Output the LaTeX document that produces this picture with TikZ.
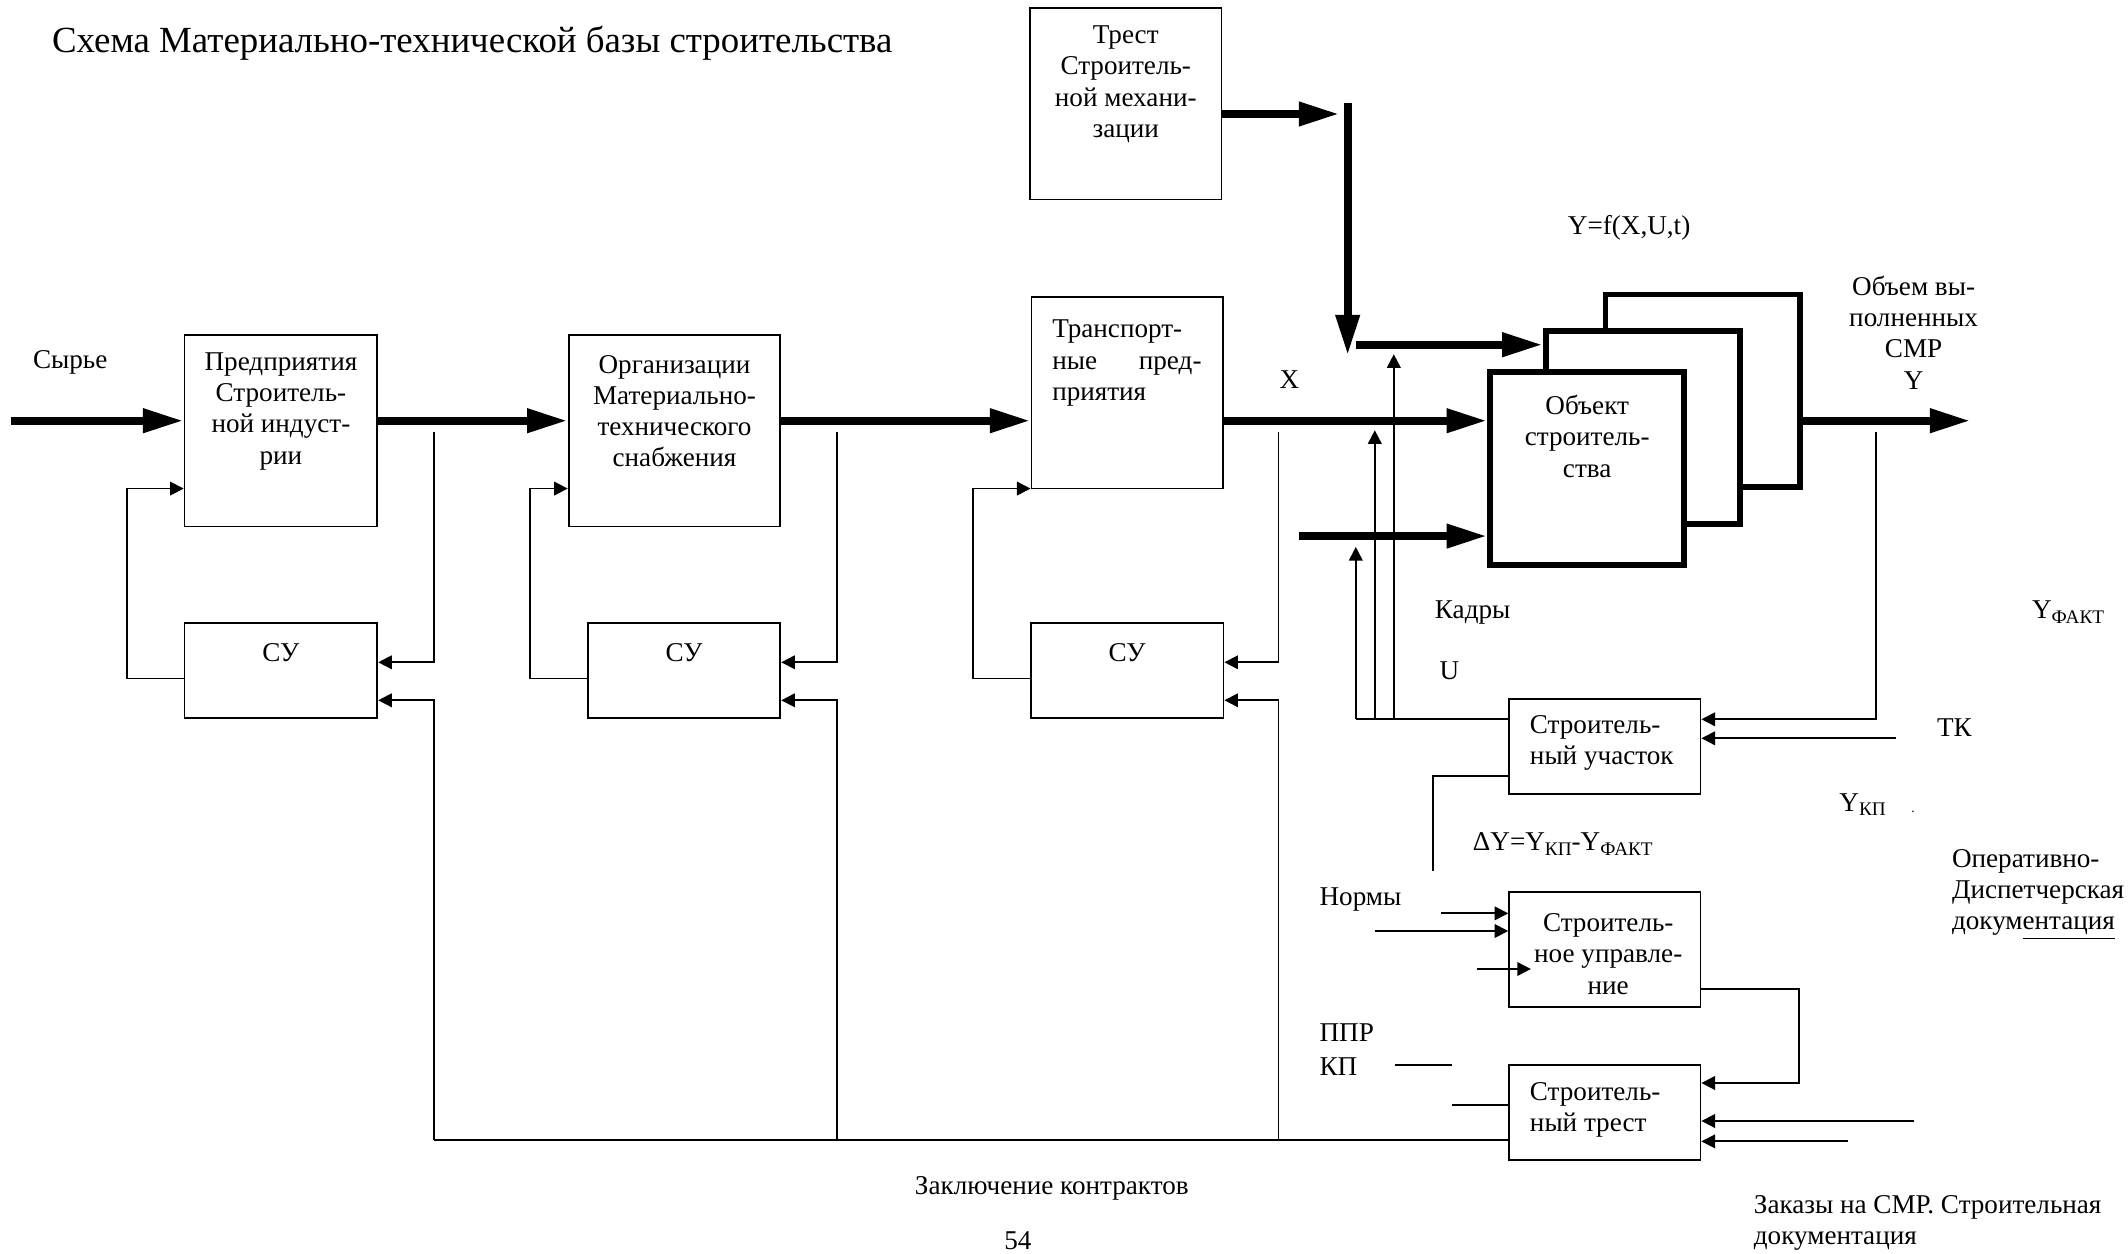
\documentclass[tikz,border=0pt]{standalone}
\usepackage{fontspec}
\setmainfont{Liberation Serif}
\usepackage{tikz}
\usetikzlibrary{arrows.meta, positioning, calc}
\tikzstyle{flow} = [line width=3.6pt, -{Triangle[length=18pt, width=10pt]}]
\tikzstyle{link} = [line width=0.8pt, -{Triangle[length=6pt, width=6pt]}]
\tikzstyle{wire} = [line width=0.8pt]
\newcommand{\lowtxt}[1]{\raisebox{-0.35ex}{\fontsize{8.5}{9}\selectfont #1}}

\begin{document}
\begin{tikzpicture}[x=0.6pt, y=-0.6pt,
    font=\fontsize{12}{13.8}\selectfont,
    box/.style={draw, line width=0.8pt, inner sep=0pt},
    big/.style={box, minimum width=85.2pt, minimum height=84.6pt},
    small/.style={box, minimum width=85.2pt, minimum height=42pt},
    obj/.style={draw, line width=2.6pt, fill=white, inner sep=0pt, minimum width=85.8pt, minimum height=85.2pt},
    txt/.style={inner sep=0pt, align=center},
    ltxt/.style={inner sep=0pt, align=left, anchor=west},
]
    \useasboundingbox (0,0) rectangle (1568,924);

    % Title
    \node[ltxt, font=\fontsize{16.3}{18}\selectfont] (title) at (38,32) {Схема Материально-технической базы строительства};

    % Supply chain
    \node[big] (pred) at (207,317.5) {};
    \node[txt] (pred-t) at (207,303) {Предприятия\\Строитель-\\ной индуст-\\рии};
    \node[big, minimum width=93.6pt] (org) at (497,317.5) {};
    \node[txt] (org-t) at (497,303) {Организации\\Материально-\\технического\\снабжения};
    \node[big, minimum width=84.6pt] (trans) at (830.5,289.5) {};
    \node[ltxt, text width=66pt] (trans-t) at (775,267.5) {Транспорт-\\ные\hfill пред-\\приятия};
    \node[big, minimum width=84.6pt] (mech) at (829.5,76.5) {};
    \node[txt] (mech-t) at (829.5,62) {Трест\\Строитель-\\ной механи-\\зации};

    % Control units
    \foreach \i/\x in {1/207, 2/504, 3/830.5} {
        \node[small] (su-\i) at (\x,494) {};
        \node[txt] (su-\i-t) at (\x,481) {СУ};
    }

    % Construction object
    \node[obj] (obj-3) at (1254.5,288) {};
    \node[obj] (obj-2) at (1210.5,315) {};
    \node[obj] (obj-1) at (1169.5,345) {};
    \node[txt] (obj-t) at (1169.5,321.5) {Объект\\строитель-\\ства};

    % Management
    \node[small, minimum width=84.6pt] (uch) at (1182.5,550) {};
    \node[ltxt] (uch-t) at (1127,547.5) {Строитель-\\ный участок};
    \node[box, minimum width=84.6pt, minimum height=51pt] (upr) at (1182.5,699.5) {};
    \node[txt] (upr-t) at (1185,703) {Строитель-\\ное управле-\\ние};
    \node[small, minimum width=84.6pt] (trest) at (1182.5,820) {};
    \node[ltxt] (trest-t) at (1127,818) {Строитель-\\ный трест};

    % Labels
    \node[ltxt] (raw-l) at (24,267) {Сырье};
    \node[txt] (x-l) at (950,280) {X};
    \node[ltxt] (f-l) at (1155,168) {Y=f(X,U,t)};
    \node[txt] (y-l) at (1410,245) {Объем вы-\\полненных\\СМР\\Y};
    \node[ltxt] (kadr-l) at (1057,451) {Кадры};
    \node[txt] (u-l) at (1068,494) {U};
    \node[ltxt] (fact-l) at (1497,451) {Y\lowtxt{ФАКТ}};
    \node[ltxt] (tk-l) at (1427,536) {ТК};
    \node[ltxt] (kp-l) at (1355,593) {Y\lowtxt{КП}};
    \node[ltxt] (dot-l) at (1408,598) {\fontsize{6}{6}\selectfont .};
    \node[ltxt] (dy-l) at (1085,622) {ΔY=Y\lowtxt{КП}-Y\lowtxt{ФАКТ}};
    \node[ltxt] (norm-l) at (972,663) {Нормы};
    \node[ltxt] (ppr-l) at (972,761) {ППР};
    \node[ltxt] (kpp-l) at (972,786) {КП};
    \node[ltxt] (od-l) at (1438,659) {Оперативно-\\Диспетчерская\\докум\underline{ентация}};
    \node[txt] (contr-l) at (775,876) {Заключение контрактов};
    \node[ltxt] (order-l) at (1292,901) {Заказы на СМР. Строительная\\документация};
    \node[txt] (page-l) at (750,914) {54};

    % Main flow
    \coordinate (raw) at (8,310);
    \coordinate (out) at (1452,310);
    \draw[flow] (raw) -- (raw -| pred.west);
    \draw[flow] (raw -| pred.east) -- (raw -| org.west);
    \draw[flow] (raw -| org.east) -- (raw -| trans.west);
    \draw[flow] (raw -| trans.east) -- (raw -| obj-1.west);
    \draw[flow] (raw -| obj-3.east) -- (out);

    % Mechanisation and staff
    \coordinate (mech-out) at (987,84);
    \coordinate (drop-top) at (993,76);
    \coordinate (drop-end) at (993,262);
    \coordinate (mech-in) at (999,254);
    \coordinate (kadr-in) at (957,395);
    \draw[flow] (mech.east |- mech-out) -- (mech-out);
    \draw[flow] (drop-top) -- (drop-end);
    \draw[flow] (mech-in) -- (mech-in -| obj-2.west);
    \draw[flow] (kadr-in) -- (kadr-in -| obj-1.west);

    % Feedback loops
    \coordinate (bus) at (0,840);
    \coordinate (ret) at (0,360);
    \foreach \i/\x/\b in {1/320/pred, 2/617/org, 3/942/trans} {
        \coordinate (tap-\i) at (\x,318);
        \draw[link] (tap-\i) |- ($(su-\i.east)+(0,-6)$);
        \draw[link] (tap-\i |- bus) |- ($(su-\i.east)+(0,22)$);
        \draw[link] ($(su-\i.west)+(0,6)$) -- ++(-42,0) |- (\b.west |- ret);
    }
    \draw[wire] (tap-1 |- bus) -- (trest.west |- bus);

    % Site control
    \coordinate (u-base) at (999,530);
    \draw[wire] ($(uch.west)+(0,-20)$) -- (u-base);
    \foreach \x/\t in {999/403, 1013/317, 1027/261}
        \draw[link] (\x,530) -- (\x,\t);
    \coordinate (tap-y) at (1382,318);
    \draw[link] (tap-y) |- ($(uch.east)+(0,-20)$);
    \coordinate (tk-in) at (1397,544);
    \draw[link] (tk-in) -- (tk-in -| uch.east);
    \coordinate (dy-end) at (1056,642);
    \draw[wire] ($(uch.west)+(0,22)$) -| (dy-end);

    % Norms
    \coordinate (norm-1) at (1062,673);
    \coordinate (norm-2) at (1013,686);
    \coordinate (norm-3) at (1088,714);
    \coordinate (norm-3e) at (1128,714);
    \draw[link] (norm-1) -- (norm-1 -| upr.west);
    \draw[link] (norm-2) -- (norm-2 -| upr.west);
    \draw[link] (norm-3) -- (norm-3e);

    % Trust
    \draw[link] ($(upr.east)+(0,29.5)$) -- ++(72,0) |- ($(trest.east)+(0,-22)$);
    \coordinate (ord-1) at (1410,826);
    \coordinate (ord-2) at (1362,841);
    \draw[link] (ord-1) -- (ord-1 -| trest.east);
    \draw[link] (ord-2) -- (ord-2 -| trest.east);
    \coordinate (kp-a) at (1028,785);
    \coordinate (kp-b) at (1070,785);
    \coordinate (kp-c) at (1070,814);
    \draw[wire] (kp-a) -- (kp-b);
    \draw[wire] (kp-c) -- (kp-c -| trest.west);
\end{tikzpicture}
\end{document}
